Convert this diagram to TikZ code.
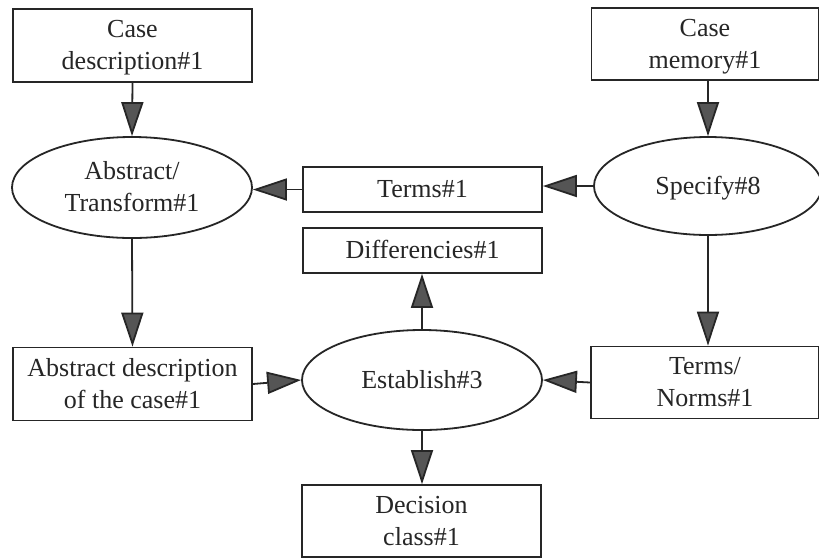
\documentclass[tikz,border=0pt]{standalone}
\usepackage{fontspec}
\setmainfont{Liberation Serif}
\usetikzlibrary{arrows.meta,shapes.geometric}
\definecolor{ink}{HTML}{262626}
\definecolor{headfill}{HTML}{555555}
% uniform line strut (height 23pt, depth 7pt) so one- and two-line labels sit alike
\newcommand\lnstrut{\rule[-7pt]{0pt}{30pt}}
\tikzset{
  base/.style={draw=ink, line width=1.8pt, text=ink, align=center, inner sep=0pt,
    font=\fontsize{26pt}{32pt}\selectfont},
  boxnode/.style={base, rectangle},
  ovalnode/.style={base, ellipse},
  flow/.style={draw=ink, line width=1.8pt,
    -{Triangle[length=34pt,width=22pt,fill=headfill]}},
}
\begin{document}
\begin{tikzpicture}[x=1pt,y=-1pt]
\useasboundingbox (0,0) rectangle (819,558);
\fill[white] (0,0) rectangle (819,558);

% left column
\node[boxnode, minimum width=239pt, minimum height=73pt] (cd) at (132.5,45.5)
  {\lnstrut Case\\\lnstrut description\#1};
\node[ovalnode, minimum width=240pt, minimum height=101pt] (at) at (132,187.5)
  {\lnstrut Abstract/\\\lnstrut Transform\#1};
\node[boxnode, minimum width=239pt, minimum height=73pt] (ad) at (132.5,384)
  {\lnstrut Abstract description\\\lnstrut of the case\#1};

% middle column
\node[boxnode, minimum width=239pt, minimum height=45pt] (terms) at (422.5,189.5) {\lnstrut Terms\#1};
\node[boxnode, minimum width=239pt, minimum height=45pt] (diff) at (422.5,250.5) {\lnstrut Differencies\#1};
\node[ovalnode, minimum width=240pt, minimum height=100pt] (est) at (422,380) {\lnstrut Establish\#3};
\node[boxnode, minimum width=239pt, minimum height=72pt] (dc) at (421.5,521)
  {\lnstrut Decision\\\lnstrut class\#1};

% right column
\node[boxnode, minimum width=227pt, minimum height=72pt] (cm) at (705,44)
  {\lnstrut Case\\\lnstrut memory\#1};
\node[ovalnode, minimum width=228pt, minimum height=98pt] (sp) at (708,186) {\lnstrut Specify\#8};
\node[boxnode, minimum width=228pt, minimum height=72pt] (tn) at (705,382.5)
  {\lnstrut Terms/\\\lnstrut Norms\#1};

% connectors
\draw[flow] (cd.south) -- (at.north);
\draw[flow] (at.south) -- (ad.north);
\draw[flow] (terms.west) -- (at.east |- terms.west);
\draw[flow] (sp.west) -- (terms.east |- sp.west);
\draw[flow] (cm.south -| sp.north) -- (sp.north);
\draw[flow] (sp.south) -- (sp.south |- tn.north);
\draw[flow] (ad.east) -- (est.west);
\draw[flow] (tn.west) -- (est.east);
\draw[flow] (est.north) -- (est.north |- diff.south);
\draw[flow] (est.south) -- (est.south |- dc.north);
\end{tikzpicture}
\end{document}
